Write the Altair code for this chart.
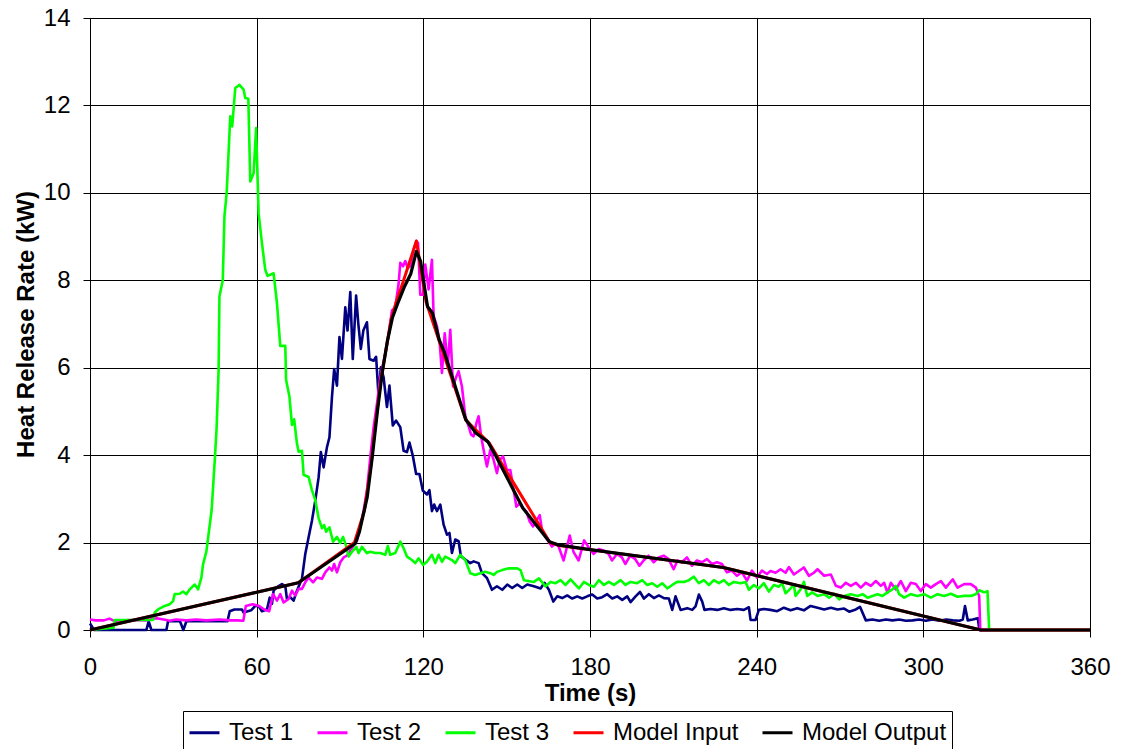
import altair as alt
import pandas as pd

# Series names and colours (legend order = drawing order)
SERIES = ["Test 1", "Test 2", "Test 3", "Model Input", "Model Output"]
COLORS = ["#000080", "#FF00FF", "#00FF00", "#FF0000", "#000000"]

X_TICKS = [0, 60, 120, 180, 240, 300, 360]
Y_TICKS = [0, 2, 4, 6, 8, 10, 12, 14]

# Test 1: time (s) and heat release rate (kW)
test1_t = [0, 1.5, 20.3, 21.1, 22.1, 27.5, 28.1, 32.4, 33.6, 34.7,
           40.0, 45.0, 49.5, 50.3, 52.0, 54.7, 55.3, 58.0, 59.5, 60.7,
           61.9, 63.7, 64.7, 65.5, 66.1, 67.3, 69.1, 70.3, 70.9, 72.1,
           73.3, 74.5, 76.3, 77.5, 78.7, 79.9, 81.1, 82.3, 83.1, 84.1,
           85.3, 86.2, 87.1, 87.9, 88.9, 89.8, 90.7, 91.9, 92.7, 93.7,
           94.6, 95.8, 96.6, 97.5, 98.4, 99.7, 100.6, 102.1, 103.0, 103.9,
           104.7, 105.7, 106.9, 107.8, 109.0, 110.2, 111.7, 112.9, 114.1, 115.0,
           116.2, 117.4, 118.6, 119.8, 121.3, 122.2, 123.1, 123.9, 124.9, 126.1,
           127.3, 128.5, 129.4, 130.3, 131.5, 132.7, 133.5, 135.1, 136.9, 138.1,
           139.9, 141.1, 142.9, 144.7, 146.5, 148.4, 150.2, 152.0, 153.8, 155.6,
           157.4, 159.8, 162.2, 163.6, 165.2, 166.8, 168.2, 170.0, 171.8, 173.6,
           175.4, 177.2, 179.0, 180.8, 182.6, 184.4, 186.2, 188.0, 189.8, 191.6,
           193.4, 194.6, 196.4, 198.0, 199.4, 201.2, 203.0, 204.8, 206.6, 208.4,
           209.6, 210.8, 212.6, 215.0, 216.8, 218.0, 219.2, 220.4, 221.2, 223.4,
           225.8, 228.2, 230.6, 233.0, 235.4, 237.2, 237.8, 239.6, 240.8, 242.6,
           245.0, 247.4, 249.8, 252.2, 254.6, 257.0, 259.4, 261.9, 264.3, 266.7,
           269.1, 271.5, 273.3, 275.7, 277.2, 279.3, 281.7, 284.1, 286.5, 288.9,
           291.3, 293.7, 296.1, 298.5, 300.9, 303.3, 305.8, 308.2, 310.6, 313.0,
           314.2, 315.0, 316.0, 317.8, 319.6, 320.2, 360.0]
test1_v = [0.15, 0.0, 0.0, 0.2, 0.0, 0.0, 0.2, 0.2, 0.0, 0.2,
           0.2, 0.2, 0.2, 0.43, 0.47, 0.47, 0.4, 0.45, 0.55, 0.55,
           0.43, 0.47, 0.74, 0.6, 0.9, 0.98, 1.05, 1.01, 0.71, 0.75,
           0.67, 0.9, 1.17, 1.74, 2.12, 2.5, 2.96, 3.49, 4.07, 3.72,
           4.18, 4.41, 5.32, 5.97, 5.59, 6.7, 6.2, 7.38, 6.85, 7.73,
           6.2, 7.65, 7.0, 6.43, 6.85, 7.04, 6.2, 6.16, 6.25, 5.32,
           6.01, 5.78, 5.1, 5.59, 4.68, 4.79, 4.64, 4.1, 4.07, 4.29,
           3.99, 3.57, 3.57, 3.19, 3.1, 3.2, 2.72, 2.87, 2.72, 2.87,
           2.41, 2.18, 2.22, 1.76, 2.07, 2.03, 1.69, 1.61, 1.53, 1.57,
           1.53, 1.3, 1.19, 0.92, 1.0, 0.92, 1.04, 0.96, 1.04, 0.96,
           1.04, 1.0, 0.95, 1.08, 0.92, 0.65, 0.77, 0.73, 0.79, 0.72,
           0.77, 0.72, 0.77, 0.81, 0.72, 0.75, 0.82, 0.72, 0.77, 0.69,
           0.77, 0.64, 0.77, 0.87, 0.72, 0.82, 0.73, 0.79, 0.73, 0.72,
           0.46, 0.77, 0.46, 0.5, 0.46, 0.54, 0.81, 0.65, 0.46, 0.48,
           0.46, 0.5, 0.46, 0.48, 0.46, 0.52, 0.23, 0.23, 0.46, 0.48,
           0.46, 0.43, 0.51, 0.45, 0.5, 0.45, 0.55, 0.51, 0.47, 0.51,
           0.47, 0.49, 0.42, 0.47, 0.53, 0.22, 0.24, 0.21, 0.24, 0.22,
           0.24, 0.21, 0.22, 0.24, 0.21, 0.24, 0.21, 0.24, 0.22, 0.21,
           0.24, 0.55, 0.22, 0.24, 0.27, 0.0, 0.0]

# Test 2
test2_t = [0, 2.0, 5.0, 7.0, 9.0, 12.0, 16.0, 20.0, 24.0, 27.5,
           28.7, 31.0, 34.7, 38.2, 41.9, 46.7, 50.3, 53.0, 55.2, 56.1,
           58.5, 60.9, 62.7, 64.5, 65.9, 67.3, 68.5, 69.7, 71.5, 72.7,
           73.9, 75.1, 76.3, 77.5, 78.7, 80.3, 81.7, 83.5, 84.7, 86.2,
           87.1, 87.9, 88.9, 90.1, 91.3, 92.5, 93.7, 94.9, 96.1, 97.3,
           98.5, 99.7, 100.9, 102.1, 103.3, 104.5, 106.3, 107.5, 108.7, 109.9,
           111.1, 111.7, 112.7, 113.5, 114.4, 115.3, 116.5, 117.5, 118.1, 118.9,
           119.9, 120.7, 121.9, 123.1, 123.7, 124.9, 125.9, 126.7, 127.7, 128.8,
           129.7, 130.7, 131.9, 132.7, 133.9, 135.1, 136.3, 137.2, 138.1, 139.1,
           139.9, 140.8, 141.7, 142.9, 144.1, 145.3, 146.5, 147.5, 148.7, 150.1,
           151.3, 152.5, 153.5, 154.7, 155.9, 157.1, 158.3, 159.5, 160.9, 161.9,
           162.7, 163.9, 165.1, 166.3, 167.5, 168.7, 170.5, 172.7, 174.1, 175.9,
           177.9, 179.5, 181.3, 183.1, 184.9, 186.7, 187.9, 189.7, 191.5, 192.7,
           194.5, 196.3, 197.8, 199.3, 201.1, 202.9, 204.7, 206.5, 208.3, 210.1,
           211.5, 213.1, 214.9, 216.7, 218.5, 220.3, 222.1, 223.9, 225.7, 227.5,
           229.3, 231.1, 232.9, 234.7, 236.5, 238.3, 240.1, 241.9, 243.7, 245.0,
           246.8, 248.6, 250.4, 251.6, 253.4, 255.2, 257.0, 258.8, 260.6, 261.9,
           264.3, 266.7, 268.5, 270.3, 272.1, 273.9, 275.7, 277.5, 279.3, 281.1,
           282.9, 284.7, 285.9, 287.1, 288.3, 290.1, 291.9, 293.7, 295.5, 297.3,
           299.1, 300.9, 302.7, 304.5, 306.3, 308.1, 310.6, 312.3, 314.7, 317.1,
           318.9, 320.1, 320.5, 360.0]
test2_v = [0.24, 0.22, 0.22, 0.26, 0.2, 0.22, 0.23, 0.22, 0.27, 0.23,
           0.21, 0.24, 0.22, 0.24, 0.22, 0.24, 0.22, 0.22, 0.21, 0.55,
           0.59, 0.55, 0.47, 0.43, 0.82, 0.67, 0.82, 0.63, 0.71, 0.9,
           0.79, 0.94, 0.94, 1.09, 1.2, 1.09, 1.2, 1.17, 1.32, 1.43,
           1.36, 1.51, 1.32, 1.55, 1.66, 1.7, 1.82, 1.93, 2.04, 2.35,
           2.73, 3.19, 3.95, 4.64, 5.17, 5.78, 6.32, 6.74, 7.31, 7.38,
           7.92, 8.4, 8.32, 8.44, 8.28, 8.32, 8.7, 8.9, 8.85, 7.67,
           7.67, 8.36, 7.79, 8.47, 7.18, 6.95, 6.56, 5.88, 6.79, 6.03,
           6.87, 5.57, 5.8, 5.92, 5.57, 4.89, 4.66, 4.47, 4.43, 4.73,
           4.89, 4.43, 4.12, 3.74, 4.12, 3.89, 3.59, 3.89, 3.97, 3.66,
           3.66, 3.21, 2.82, 2.9, 2.79, 2.71, 2.48, 2.37, 2.52, 2.63,
           2.29, 2.14, 2.02, 1.91, 1.98, 1.91, 1.59, 2.16, 1.78, 1.59,
           2.05, 1.89, 1.74, 1.85, 1.82, 1.74, 1.59, 1.74, 1.66, 1.51,
           1.7, 1.62, 1.47, 1.59, 1.7, 1.55, 1.66, 1.7, 1.62, 1.39,
           1.59, 1.55, 1.66, 1.47, 1.59, 1.55, 1.62, 1.51, 1.55, 1.51,
           1.32, 1.36, 1.24, 1.32, 1.13, 1.36, 1.2, 1.36, 1.28, 1.35,
           1.31, 1.39, 1.31, 1.44, 1.27, 1.35, 1.43, 1.24, 1.31, 1.39,
           1.24, 1.27, 1.01, 0.97, 1.08, 1.01, 1.08, 0.97, 1.08, 1.01,
           1.12, 1.01, 1.08, 0.85, 1.08, 0.93, 1.12, 0.89, 1.08, 1.05,
           0.89, 1.05, 0.97, 1.05, 1.12, 0.97, 1.16, 0.97, 1.05, 1.05,
           0.97, 0.78, 0.0, 0.0]

# Test 3
test3_t = [0, 8.5, 8.9, 15.0, 22.7, 23.3, 24.5, 26.9, 28.7, 29.9,
           30.5, 32.3, 33.5, 34.7, 35.9, 37.7, 38.9, 40.1, 40.7, 41.9,
           43.8, 45.0, 45.6, 46.3, 46.6, 47.8, 48.4, 49.2, 50.5, 51.2,
           52.3, 53.8, 55.3, 55.9, 57.0, 57.7, 58.9, 59.8, 60.7, 61.9,
           63.1, 63.9, 66.1, 67.3, 68.5, 70.3, 70.6, 71.8, 72.7, 73.5,
           74.5, 75.1, 76.3, 76.9, 78.7, 79.9, 81.1, 82.3, 83.5, 84.3,
           85.0, 86.2, 87.5, 88.9, 90.1, 91.1, 92.3, 93.1, 94.3, 95.9,
           96.7, 97.9, 99.7, 100.9, 102.7, 104.5, 106.3, 107.2, 108.1, 109.9,
           111.7, 112.9, 114.1, 115.9, 117.1, 118.3, 119.9, 121.3, 123.1, 124.3,
           125.5, 126.7, 127.9, 130.3, 131.5, 133.3, 135.1, 136.9, 138.7, 140.5,
           142.3, 144.1, 145.3, 146.5, 148.4, 150.8, 153.8, 155.0, 156.2, 159.8,
           161.6, 164.0, 165.8, 167.6, 169.4, 171.2, 173.0, 174.8, 176.0, 177.8,
           179.6, 181.4, 183.2, 185.0, 186.8, 188.6, 191.0, 192.8, 194.6, 197.0,
           198.8, 200.6, 202.4, 204.2, 206.0, 207.8, 209.6, 211.4, 213.8, 215.6,
           217.4, 219.2, 221.0, 222.8, 224.6, 226.4, 228.2, 230.0, 231.8, 234.2,
           236.0, 237.2, 239.0, 240.8, 242.6, 244.4, 246.2, 248.0, 249.2, 250.4,
           251.6, 253.4, 254.0, 255.8, 257.0, 258.2, 260.0, 261.9, 264.3, 266.1,
           267.9, 269.7, 271.5, 273.9, 276.3, 278.1, 279.9, 281.7, 283.5, 285.3,
           287.1, 288.9, 290.1, 291.3, 293.1, 295.5, 297.9, 300.3, 302.7, 305.1,
           307.5, 309.9, 312.3, 314.7, 317.1, 318.9, 320.1, 321.9, 323.1, 323.7,
           360.0]
test3_v = [0.0, 0.05, 0.23, 0.23, 0.23, 0.4, 0.47, 0.55, 0.59, 0.66,
           0.82, 0.83, 0.88, 0.82, 0.93, 1.04, 0.93, 1.2, 1.5, 1.8,
           2.75, 3.97, 4.65, 5.95, 7.63, 8.0, 9.46, 10.0, 11.75, 11.52,
           12.4, 12.47, 12.36, 12.17, 12.15, 10.26, 10.45, 11.48, 9.53, 8.85,
           8.24, 8.1, 8.16, 7.48, 6.5, 6.5, 5.72, 5.34, 4.69, 4.82,
           4.27, 4.08, 4.1, 3.55, 3.5, 3.2, 2.97, 2.56, 2.33, 2.4,
           2.25, 2.35, 2.02, 2.13, 1.99, 2.13, 1.9, 1.68, 1.79, 1.9,
           1.76, 1.9, 1.76, 1.79, 1.76, 1.76, 1.72, 1.92, 1.72, 1.76,
           2.02, 1.87, 1.68, 1.6, 1.53, 1.64, 1.49, 1.56, 1.72, 1.53,
           1.72, 1.56, 1.68, 1.6, 1.53, 1.72, 1.6, 1.3, 1.26, 1.3,
           1.33, 1.3, 1.26, 1.33, 1.37, 1.41, 1.41, 1.37, 1.14, 1.1,
           1.18, 1.0, 1.1, 1.07, 1.14, 1.03, 1.16, 1.03, 0.95, 1.1,
           1.03, 0.99, 1.14, 1.03, 1.1, 1.03, 1.14, 1.03, 1.1, 1.07,
           1.14, 1.03, 1.07, 0.99, 1.07, 0.95, 1.03, 1.1, 1.1, 1.14,
           1.22, 1.07, 1.14, 1.03, 1.14, 1.07, 1.14, 1.03, 1.1, 1.07,
           1.1, 0.92, 1.03, 0.95, 1.07, 0.88, 1.03, 0.99, 1.07, 0.84,
           0.91, 1.03, 0.78, 0.93, 1.1, 0.78, 0.86, 0.78, 0.82, 0.74,
           0.83, 0.7, 0.78, 0.82, 0.78, 0.82, 0.74, 0.78, 0.82, 0.78,
           0.86, 0.93, 1.01, 0.82, 0.74, 0.82, 0.78, 0.82, 0.74, 0.82,
           0.78, 0.83, 0.76, 0.78, 0.78, 0.82, 0.91, 0.86, 0.89, 0.0,
           0.0]

# Model input fire curve
model_in_t = [0, 75, 95.2, 98.8, 101.2, 102.9, 104.7, 106.5, 108.3, 110.2,
              112.5, 117.5, 121.0, 135.3, 143.8, 165.6, 169.0, 228.0, 320.7, 360]
model_in_v = [0, 1.08, 2.0, 2.73, 3.8, 4.79, 5.7, 6.39, 7.08, 7.5,
              7.92, 8.9, 7.5, 4.8, 4.27, 2.0, 1.93, 1.43, 0, 0]

# Model output
model_out_t = [0, 75, 95.5, 97.0, 99.8, 101.6, 103.5, 105.3, 107.1, 108.9,
               110.7, 113.1, 115.5, 117.5, 119.0, 121.5, 123.3, 125.7, 127.5, 135.3,
               139.0, 143.2, 146.2, 155.8, 165.4, 169.0, 180.0, 228.0, 320.7, 360]
model_out_v = [0, 1.08, 1.98, 2.25, 3.04, 3.95, 5.02, 5.93, 6.62, 7.15,
               7.46, 7.84, 8.15, 8.66, 8.44, 7.4, 7.25, 6.64, 6.37, 4.81,
               4.5, 4.31, 3.97, 2.79, 2.02, 1.94, 1.84, 1.43, 0, 0]

FONT = "Liberation Sans"

color = alt.Color(
    "series:N",
    scale=alt.Scale(domain=SERIES, range=COLORS),
    legend=alt.Legend(
        title=None,
        orient="none",
        legendX=93,
        legendY=693,
        direction="horizontal",
        symbolType="stroke",
        symbolSize=900,
        symbolStrokeWidth=3,
        labelFont=FONT,
        labelFontSize=24,
        labelColor="black",
        labelOffset=8,
        columnPadding=17,
        padding=5,
        strokeColor="black",
        fillColor="white",
    ),
)

x = alt.X(
    "t:Q",
    title="Time (s)",
    scale=alt.Scale(domain=[0, 360], nice=False),
    axis=alt.Axis(values=X_TICKS, labelPadding=18, titlePadding=2, labelFlush=False),
)
y = alt.Y(
    "v:Q",
    title="Heat Release Rate (kW)",
    scale=alt.Scale(domain=[0, 14], nice=False),
    axis=alt.Axis(values=Y_TICKS, labelPadding=13, titlePadding=5),
)


def series_line(name, t, v, width):
    df = pd.DataFrame({"t": t, "v": v, "series": name})
    return alt.Chart(df).mark_line(strokeWidth=width, strokeJoin="round").encode(
        x=x, y=y, color=color
    )


chart = alt.layer(
    series_line("Test 1", test1_t, test1_v, 2.6),
    series_line("Test 2", test2_t, test2_v, 2.6),
    series_line("Test 3", test3_t, test3_v, 2.6),
    series_line("Model Input", model_in_t, model_in_v, 3),
    series_line("Model Output", model_out_t, model_out_v, 3.2),
).properties(
    width=1000,
    height=612,
    autosize=alt.AutoSizeParams(type="none"),
    padding={"left": 90, "top": 18, "right": 31, "bottom": 119},
    background="white",
).configure_view(
    stroke="black", strokeWidth=1
).configure_axis(
    labelFont=FONT,
    labelFontSize=24,
    labelColor="black",
    titleFont=FONT,
    titleFontSize=24,
    titleFontWeight="bold",
    titleColor="black",
    grid=True,
    gridColor="black",
    gridOpacity=1,
    gridWidth=1,
    domainColor="black",
    tickColor="black",
    tickSize=7,
)

chart.save("out.html", embed_options={"renderer": "svg", "actions": False})
